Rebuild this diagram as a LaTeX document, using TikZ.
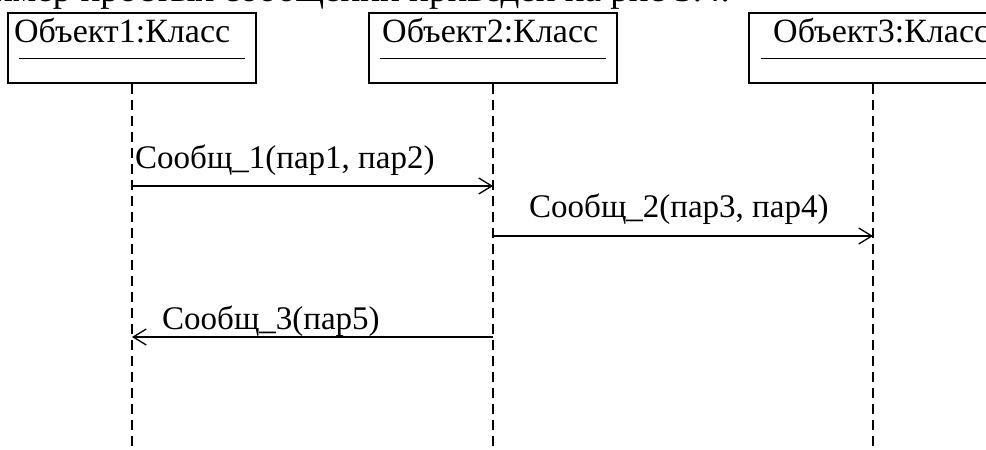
\documentclass[tikz,border=0pt]{standalone}
\usepackage{fontspec}
\setmainfont{Liberation Serif}
\usetikzlibrary{arrows.meta,calc}

\tikzset{
  objbox/.style={draw, line width=1.5pt, minimum width=248pt, minimum height=70pt, inner sep=0pt},
  objname/.style={anchor=base west, inner sep=0pt, font=\fontsize{34}{40}\selectfont},
  divider/.style={line width=0.9pt},
  lifeline/.style={line width=1.9pt, dash pattern=on 10pt off 6pt},
  msg/.style={line width=1.4pt, -{Straight Barb[length=13pt, width=16pt, line width=1.3pt]}},
  msglabel/.style={anchor=base west, inner sep=0pt, font=\fontsize{33}{40}\selectfont},
}

\begin{document}
\begin{tikzpicture}[x=1pt, y=-1pt]
  \useasboundingbox (0,0) rectangle (986,450);
  \clip (0,0) rectangle (986,450);

  % line of running text above the diagram
  \node[anchor=base east, inner sep=0pt, font=\fontsize{37}{44}\selectfont] (caption) at (730,1)
    {Пример простых сообщений приведен на рис 3.4.};

  % objects
  \node[objbox] (o1) at (132,48) {};
  \node[objbox] (o2) at (493,48) {};
  \node[objbox] (o3) at (873,48) {};

  \node[objname] (n1) at (14,42) {Объект1:Класс};
  \node[objname] (n2) at (382,42) {Объект2:Класс};
  \node[objname] (n3) at (773,42) {Объект3:Класс};

  \draw[divider] ($(o1.north west)+(12,46)$) -- ($(o1.north east)+(-12,46)$);
  \draw[divider] ($(o2.north west)+(12,46)$) -- ($(o2.north east)+(-12,46)$);
  \draw[divider] ($(o3.north west)+(13,46)$) -- ($(o3.north east)+(-12,46)$);

  % lifelines
  \coordinate (e1) at (132,450);
  \coordinate (e2) at (493,450);
  \coordinate (e3) at (873,450);
  \draw[lifeline] (o1.south) -- (e1);
  \draw[lifeline] (o2.south) -- (e2);
  \draw[lifeline] (o3.south) -- (e3);

  % message points on the lifelines
  \coordinate (m1s) at (132,186);
  \coordinate (m1e) at (493,186);
  \coordinate (m2s) at (493,236);
  \coordinate (m2e) at (873,236);
  \coordinate (m3s) at (493,337);
  \coordinate (m3e) at (132,337);

  % white backing behind the first message label
  \fill[white] (133,130) rectangle (492,177);

  % messages
  \draw[msg] (m1s) -- (m1e);
  \draw[msg] (m2s) -- (m2e);
  \draw[msg] (m3s) -- (m3e);

  \node[msglabel] (l1) at (135,168) {Сообщ\_1(пар1, пар2)};
  \node[msglabel] (l2) at (529,217) {Сообщ\_2(пар3, пар4)};
  \node[msglabel] (l3) at (162,329) {Сообщ\_3(пар5)};
\end{tikzpicture}
\end{document}
